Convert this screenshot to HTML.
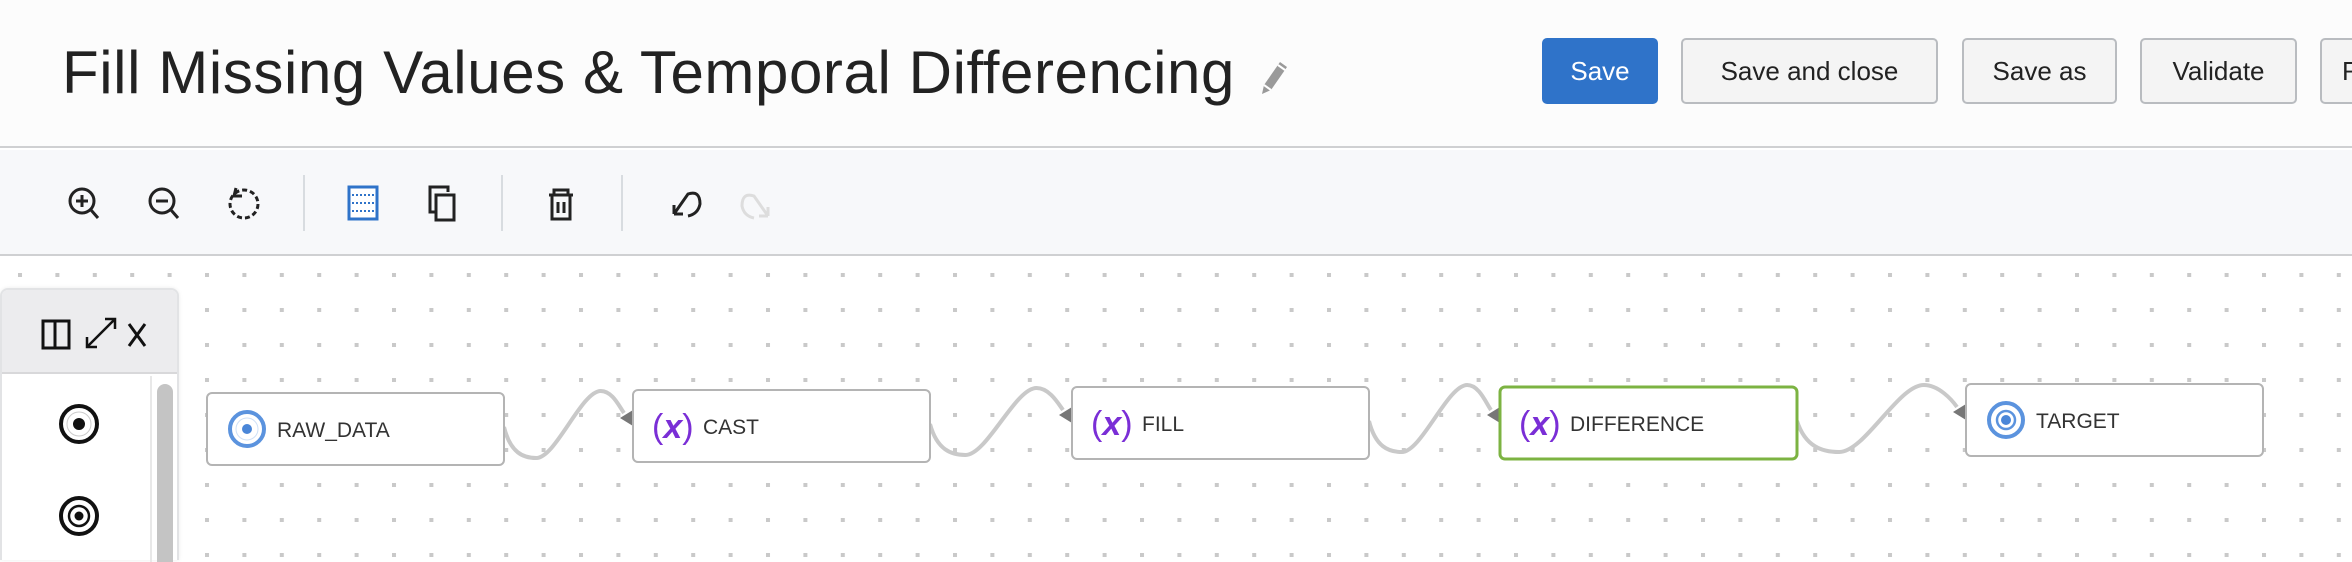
<!DOCTYPE html>
<html><head><meta charset="utf-8">
<style>
*{box-sizing:border-box;margin:0;padding:0}
body{width:2352px;height:560px;overflow:hidden;background:#fff;font-family:"Liberation Sans",Arial,sans-serif;position:relative}
#header{position:absolute;left:0;top:0;width:2352px;height:148px;background:#fcfcfc;border-bottom:2px solid #cfd0d2}
#title{position:absolute;left:62px;top:38px;font-size:60px;color:#222;white-space:nowrap;letter-spacing:0.6px}
.btn{position:absolute;top:38px;height:66px;border:2px solid #b9bcc0;border-radius:5px;background:#f4f4f4;font-size:26px;color:#222;display:flex;align-items:center;justify-content:center;font-family:"Liberation Sans",sans-serif}
#toolbar{position:absolute;left:0;top:150px;width:2352px;height:106px;background:#f7f8fa;border-bottom:2px solid #cfd0d2}
.sep{position:absolute;top:25px;width:2px;height:56px;background:#d8dce0}
</style></head><body>
<div id="header">
  <div id="title">Fill Missing Values &amp; Temporal Differencing</div>
  <svg style="position:absolute;left:1254px;top:58px" width="36" height="40" viewBox="0 0 36 40"><path d="M8 36 L10 27 L26 4 L33 9 L17 32 Z" fill="#9a9a9a"/><path d="M10 27 L17 32" stroke="#fff" stroke-width="2"/><path d="M24 7 L31 12" stroke="#fff" stroke-width="2"/></svg>
  <div class="btn" style="left:1542px;width:116px;background:#2f73c9;border-color:#2f73c9;color:#fff">Save</div>
  <div class="btn" style="left:1681px;width:257px">Save and close</div>
  <div class="btn" style="left:1962px;width:155px">Save as</div>
  <div class="btn" style="left:2140px;width:157px">Validate</div>
  <div class="btn" style="left:2320px;width:100px;justify-content:flex-start;padding-left:20px">R</div>
</div>
<div id="toolbar">
  <svg width="2352" height="106" style="position:absolute;left:0;top:0" fill="none" stroke="#222" stroke-width="3">
    <g><circle cx="82" cy="51" r="12"/><path d="M91 60 L98 68 M82 45 V57 M76 51 H88"/></g>
    <g><circle cx="162" cy="51" r="12"/><path d="M171 60 L178 68 M156 51 H168"/></g>
    <g><circle cx="244" cy="54" r="14" stroke-dasharray="5 3"/><path d="M236 38 L234 46 L242 46"/></g>
    <g><rect x="349" y="37" width="28" height="32" fill="#fff" stroke="#2f73c9"/><path d="M352 45 H374 M352 53 H374 M352 61 H374" stroke="#2f73c9" stroke-dasharray="2 2" stroke-width="2"/></g>
    <g><path d="M436 62 H430 V37 H448 V42"/><rect x="436" y="45" width="18" height="25"/></g>
    <g><path d="M549 45 H573 M554 45 V40 H568 V45 M552 45 V69 H570 V45 M558 52 V63 M564 52 V63"/></g>
    <g><path d="M674 64 L688 44 Q700 40 700 54 Q698 64 688 66 M674 64 V55 M674 64 H683"/></g>
    <g stroke="#ddd"><path d="M768 66 L754 46 Q742 42 742 56 Q744 66 754 68 M768 66 V57 M768 66 H759"/></g>
  </svg>
  <div class="sep" style="left:303px"></div>
  <div class="sep" style="left:501px"></div>
  <div class="sep" style="left:621px"></div>
</div>
<svg id="canvas" width="2352" height="303" style="position:absolute;left:0;top:257px">
  <defs><pattern id="dots" x="18" y="16" width="37.4" height="35" patternUnits="userSpaceOnUse"><rect x="0" y="0" width="4" height="4" fill="#c9c9c9"/></pattern></defs>
  <rect width="2352" height="303" fill="url(#dots)"/>
  <g id="edges"></g>
  <g id="nodes"></g>
</svg>
<div style="position:absolute;left:0;top:288px;width:179px;height:272px;background:#fff;border:2px solid #e2e3e5;border-bottom:none;border-radius:8px 8px 0 0;box-shadow:0 0 4px rgba(0,0,0,0.08)">
  <div style="position:absolute;left:0;top:0;width:175px;height:84px;background:#ececee;border-bottom:2px solid #d8d8da;border-radius:6px 6px 0 0"></div>
  <svg width="178" height="272" style="position:absolute;left:0;top:0" fill="none" stroke="#111" stroke-width="3">
    <g><rect x="41" y="31" width="26" height="27"/><path d="M53 31 V58"/></g>
    <g stroke-width="2.5"><path d="M85 57 L113 29 M103 29 H113 V39 M85 47 V57 H95"/></g>
    <g><path d="M127 34 L143 56 M143 34 L127 56"/></g>
    <path d="M149 86 V272" stroke="#e8e8e8" stroke-width="2"/>
    <rect x="155" y="94" width="16" height="190" rx="8" fill="#c4c4c4" stroke="none"/>
    <g><circle cx="77" cy="134" r="18" stroke-width="4"/><circle cx="77" cy="134" r="6" fill="#111" stroke="none"/><circle cx="77" cy="134" r="12" stroke="#ccc" stroke-width="1"/></g>
    <g><circle cx="77" cy="226" r="18" stroke-width="4"/><circle cx="77" cy="226" r="10" stroke-width="2.5"/><circle cx="77" cy="226" r="4.5" fill="#111" stroke="none"/></g>
  </svg>
</div>
<script>
var nodeLabels=["RAW_DATA","CAST","FILL","DIFFERENCE","TARGET"];
var nodeKinds=["source","expr","expr","expr","target"];
var nodeX=[207,633,1072,1500,1966];
var nodeY=[136,133,130,130,127];
var NS="http://www.w3.org/2000/svg";
var W=297,H=72;
var ng=document.getElementById('nodes'),eg=document.getElementById('edges');
function mk(t,a){var e=document.createElementNS(NS,t);for(var k in a)e.setAttribute(k,a[k]);return e;}
for(var i=0;i<nodeLabels.length;i++){
  var g=mk('g',{});
  
  
  var sel=nodeLabels[i]==="DIFFERENCE";
  g.appendChild(mk('rect',{x:nodeX[i],y:nodeY[i],width:W,height:H,rx:5,fill:'#fff',stroke:sel?'#7cb342':'#b4b4b4','stroke-width':sel?3:2}));
  var cy=nodeY[i]+H/2;
  if(nodeKinds[i]==="expr"){
    var t=mk('text',{x:nodeX[i]+19,y:cy+12,'font-size':34,fill:'#7a2ed6','font-family':'Liberation Sans, sans-serif'});
    t.innerHTML='(<tspan font-style="italic" font-weight="bold">x</tspan>)';
    g.appendChild(t);
  } else {
    var cx=nodeX[i]+40;
    g.appendChild(mk('circle',{cx:cx,cy:cy,r:17,fill:'none',stroke:'#5b93de','stroke-width':4}));
    if(nodeKinds[i]==="target")g.appendChild(mk('circle',{cx:cx,cy:cy,r:9,fill:'none',stroke:'#5b93de','stroke-width':2.5}));
    else g.appendChild(mk('circle',{cx:cx,cy:cy,r:11,fill:'none',stroke:'#cfe0f6','stroke-width':1}));
    g.appendChild(mk('circle',{cx:cx,cy:cy,r:5,fill:'#4a86d8'}));
  }
  var lb=mk('text',{x:nodeX[i]+70,y:cy+8,'font-size':21,fill:'#333','font-family':'Liberation Sans, sans-serif'});
  lb.textContent=nodeLabels[i];
  g.appendChild(lb);
  ng.appendChild(g);
  if(i>0){
    var x1=nodeX[i-1]+W,y1=nodeY[i-1]+H/2-2,x2=nodeX[i],y2=nodeY[i]+28,gp=x2-x1;
    var d='M'+x1+','+y1+' C'+(x1+.05*gp)+','+(y1+26)+' '+(x1+.15*gp)+','+(y1+31)+' '+(x1+.25*gp)+','+(y1+31)+
      ' C'+(x1+.40*gp)+','+(y1+31)+' '+(x1+.60*gp)+','+(y1-36)+' '+(x1+.75*gp)+','+(y1-36)+
      ' C'+(x1+.84*gp)+','+(y1-36)+' '+(x2-14)+','+(y2-12)+' '+(x2-9)+','+(y2-5);
    var p=mk('path',{d:d,fill:'none',stroke:'#c9c9c9','stroke-width':4});
    
    
    eg.appendChild(p);
    var a=mk('path',{d:'M'+x2+','+(y2-8)+' L'+(x2-13)+','+y2+' L'+x2+','+(y2+8)+' Z',fill:'#777'});
    
    
    eg.appendChild(a);
  }
}
</script>
</body></html>
